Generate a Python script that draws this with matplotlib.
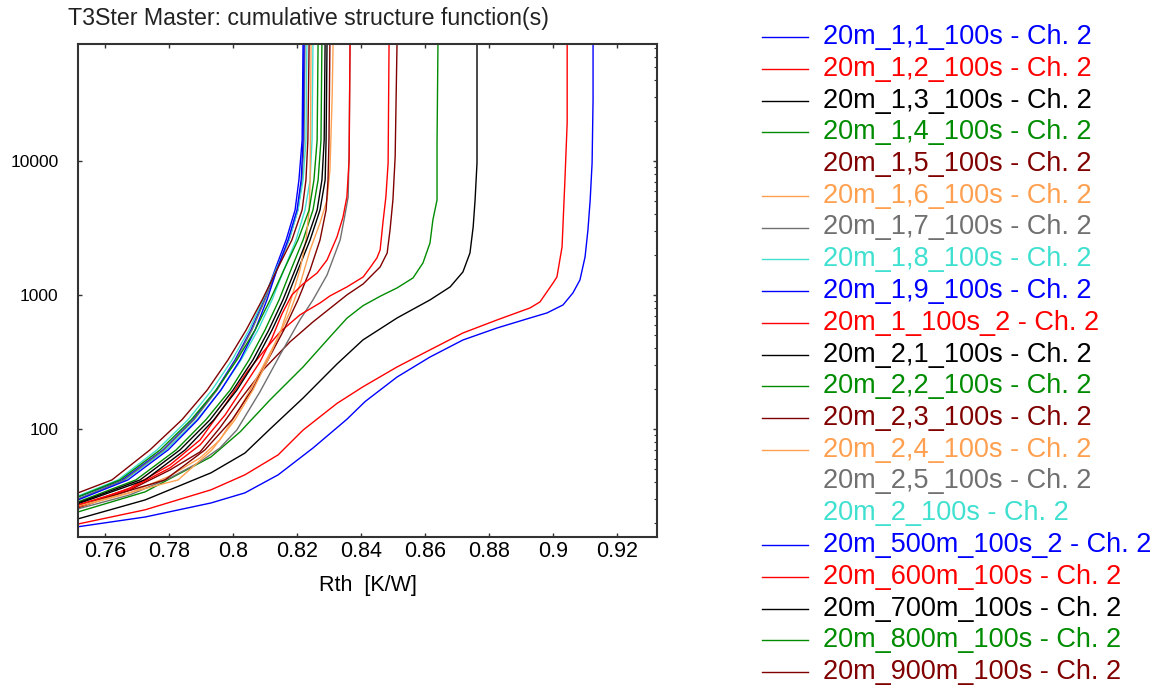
import numpy as np
import matplotlib
matplotlib.use("Agg")
import matplotlib.pyplot as plt
from matplotlib.lines import Line2D
from matplotlib.ticker import LogLocator, NullFormatter

plt.rcParams['font.family'] = ['Liberation Sans', 'DejaVu Sans']

# cumulative structure functions
# rth = thermal resistance [K/W], cth = cumulative capacitance
rth_1_1 = [0.7514, 0.7724, 0.7930, 0.8036, 0.8140, 0.8249, 0.8355, 0.8412, 0.8512, 0.8615, 0.8718, 0.8825,
           0.8928, 0.8981, 0.9031, 0.9062, 0.9084, 0.9100, 0.9109, 0.9116, 0.9122, 0.9125, 0.9125]
cth_1_1 = [18.6, 22.0, 28.0, 33.3, 45.4, 72.0, 118, 160, 244, 344, 461, 567,
           673, 734, 842, 1035, 1294, 1922, 3055, 5117, 9660, 28500, 80000]

rth_1_2 = [0.7514, 0.7724, 0.7930, 0.8036, 0.8140, 0.8218, 0.8324, 0.8405, 0.8512, 0.8615, 0.8718, 0.8825,
           0.8928, 0.8959, 0.9000, 0.9012, 0.9028, 0.9037, 0.9044, 0.9044]
cth_1_2 = [19.5, 24.9, 35.1, 45.4, 64.0, 98.0, 155, 206, 290, 389, 520, 651,
           800, 887, 1229, 1362, 2280, 7210, 19200, 80000]

rth_1_3 = [0.7514, 0.7724, 0.7930, 0.8036, 0.8115, 0.8218, 0.8324, 0.8405, 0.8512, 0.8615, 0.8678, 0.8718,
           0.8740, 0.8750, 0.8756, 0.8762, 0.8762]
cth_1_3 = [21.3, 29.5, 47.0, 66.0, 100, 170, 305, 461, 673, 918, 1148, 1485,
           2057, 3215, 5117, 9660, 80000]

rth_1_4 = [0.7514, 0.7724, 0.7930, 0.8021, 0.8115, 0.8218, 0.8302, 0.8355, 0.8405, 0.8460, 0.8512, 0.8562,
           0.8593, 0.8615, 0.8624, 0.8637, 0.8637, 0.8640]
cth_1_4 = [24.0, 33.9, 61.8, 95, 165, 290, 486, 670, 830, 980, 1128, 1340,
           1733, 2443, 3630, 5117, 13620, 80000]

rth_1_5 = [0.7514, 0.7677, 0.7802, 0.7896, 0.7958, 0.8021, 0.8093, 0.8177, 0.8249, 0.8355, 0.8406, 0.8459,
           0.8481, 0.8490, 0.8499, 0.8506, 0.8512]
cth_1_5 = [25.7, 35.1, 49.4, 67.4, 102, 165, 276, 446, 629, 1000, 1208, 1618,
           2057, 3056, 5117, 10710, 80000]

rth_1_6 = [0.7514, 0.7677, 0.7802, 0.7896, 0.7958, 0.8021, 0.8083, 0.8136, 0.8177, 0.8208, 0.8240, 0.8271,
           0.8293, 0.8302, 0.8309, 0.8312]
cth_1_6 = [26.2, 33.3, 44.6, 60.8, 82.8, 143, 266, 461, 747, 1188, 2167, 3446,
           5117, 8566, 30040, 80000]

rth_1_7 = [0.7514, 0.7677, 0.7802, 0.7896, 0.7958, 0.8011, 0.8083, 0.8146, 0.8208, 0.8249, 0.8293, 0.8334,
           0.8349, 0.8359, 0.8362, 0.8365]
cth_1_7 = [25.3, 32.2, 43.1, 56.7, 72.1, 98.3, 189, 357, 651, 918, 1410, 2573,
           3954, 5386, 12080, 80000]

rth_1_100s_2 = [0.7514, 0.7677, 0.7802, 0.7896, 0.7974, 0.8043, 0.8093, 0.8146, 0.8208, 0.8271, 0.8302, 0.8355,
                0.8406, 0.8427, 0.8449, 0.8459, 0.8468, 0.8477, 0.8484, 0.8487]
cth_1_100s_2 = [26.2, 36.3, 53.9, 82.8, 151, 266, 375, 529, 709, 871, 983, 1147,
                1362, 1591, 1889, 2167, 3505, 5386, 9663, 80000]

rth_600m = [0.7514, 0.7677, 0.7802, 0.7896, 0.7974, 0.8036, 0.8083, 0.8121, 0.8152, 0.8183, 0.8218, 0.8262,
            0.8293, 0.8324, 0.8343, 0.8355, 0.8362, 0.8365]
cth_600m = [27.1, 35.7, 51.2, 76.0, 127, 213, 316, 478, 722, 1000, 1208, 1459,
            1825, 2709, 3820, 5386, 10170, 80000]

# the tight bundle of curves shares these Cth levels (after its own start value)
cth_group = [41.6, 69.7, 117, 195, 327, 548, 918, 1537, 2573, 4309, 7214, 14340, 80000]

rth_1_8 = [0.7514, 0.7661, 0.7789, 0.7886, 0.7961, 0.8024, 0.8077, 0.8121, 0.8158, 0.8196, 0.8224, 0.8240, 0.8246, 0.8249]
cth_1_8 = [30.0] + cth_group
rth_1_9 = [0.7514, 0.7652, 0.7780, 0.7874, 0.7946, 0.8005, 0.8055, 0.8096, 0.8130, 0.8165, 0.8193, 0.8205, 0.8215, 0.8218]
cth_1_9 = [31.1] + cth_group
rth_2_1 = [0.7514, 0.7724, 0.7849, 0.7939, 0.8011, 0.8071, 0.8121, 0.8165, 0.8202, 0.8240, 0.8271, 0.8287, 0.8290, 0.8293]
cth_2_1 = [27.6] + cth_group
rth_2_2 = [0.7514, 0.7695, 0.7821, 0.7914, 0.7990, 0.8049, 0.8099, 0.8143, 0.8180, 0.8218, 0.8249, 0.8265, 0.8274, 0.8277]
cth_2_2 = [28.5] + cth_group
rth_2_3 = [0.7514, 0.7786, 0.7911, 0.7996, 0.8058, 0.8108, 0.8158, 0.8202, 0.8240, 0.8271, 0.8290, 0.8296, 0.8299, 0.8302]
cth_2_3 = [26.6] + cth_group
rth_2_4 = [0.7514, 0.7827, 0.7933, 0.8005, 0.8061, 0.8108, 0.8149, 0.8180, 0.8208, 0.8227, 0.8237, 0.8240, 0.8241, 0.8243]
cth_2_4 = [26.6] + cth_group
rth_2_5 = [0.7514, 0.7658, 0.7783, 0.7877, 0.7949, 0.8008, 0.8058, 0.8099, 0.8136, 0.8174, 0.8202, 0.8215, 0.8221, 0.8224]
cth_2_5 = [30.0] + cth_group
rth_2 = [0.7514, 0.7639, 0.7761, 0.7858, 0.7933, 0.7996, 0.8049, 0.8093, 0.8133, 0.8174, 0.8202, 0.8218, 0.8227, 0.8230]
cth_2 = [31.6] + cth_group
rth_500m = [0.7514, 0.7670, 0.7796, 0.7889, 0.7961, 0.8021, 0.8068, 0.8105, 0.8136, 0.8171, 0.8199, 0.8212, 0.8218, 0.8221]
cth_500m = [29.5] + cth_group
rth_700m = [0.7514, 0.7708, 0.7833, 0.7927, 0.7999, 0.8061, 0.8111, 0.8155, 0.8193, 0.8230, 0.8262, 0.8277, 0.8284, 0.8287]
cth_700m = [28.0] + cth_group
rth_800m = [0.7514, 0.7645, 0.7771, 0.7868, 0.7946, 0.8011, 0.8068, 0.8115, 0.8158, 0.8202, 0.8237, 0.8252, 0.8262, 0.8265]
cth_800m = [31.1] + cth_group
rth_900m = [0.7514, 0.7620, 0.7739, 0.7839, 0.7918, 0.7983, 0.8040, 0.8090, 0.8136, 0.8183, 0.8215, 0.8227, 0.8233, 0.8237]
cth_900m = [33.3] + cth_group

labels = ["20m_1,1_100s - Ch. 2", "20m_1,2_100s - Ch. 2", "20m_1,3_100s - Ch. 2", "20m_1,4_100s - Ch. 2",
          "20m_1,5_100s - Ch. 2", "20m_1,6_100s - Ch. 2", "20m_1,7_100s - Ch. 2", "20m_1,8_100s - Ch. 2",
          "20m_1,9_100s - Ch. 2", "20m_1_100s_2 - Ch. 2", "20m_2,1_100s - Ch. 2", "20m_2,2_100s - Ch. 2",
          "20m_2,3_100s - Ch. 2", "20m_2,4_100s - Ch. 2", "20m_2,5_100s - Ch. 2", "20m_2_100s - Ch. 2",
          "20m_500m_100s_2 - Ch. 2", "20m_600m_100s - Ch. 2", "20m_700m_100s - Ch. 2", "20m_800m_100s - Ch. 2",
          "20m_900m_100s - Ch. 2"]
curves = [(rth_1_1, cth_1_1), (rth_1_2, cth_1_2), (rth_1_3, cth_1_3), (rth_1_4, cth_1_4),
          (rth_1_5, cth_1_5), (rth_1_6, cth_1_6), (rth_1_7, cth_1_7), (rth_1_8, cth_1_8),
          (rth_1_9, cth_1_9), (rth_1_100s_2, cth_1_100s_2), (rth_2_1, cth_2_1), (rth_2_2, cth_2_2),
          (rth_2_3, cth_2_3), (rth_2_4, cth_2_4), (rth_2_5, cth_2_5), (rth_2, cth_2),
          (rth_500m, cth_500m), (rth_600m, cth_600m), (rth_700m, cth_700m), (rth_800m, cth_800m),
          (rth_900m, cth_900m)]

x_ticks = [0.76, 0.78, 0.80, 0.82, 0.84, 0.86, 0.88, 0.90, 0.92]
x_tick_labels = ["0.76", "0.78", "0.8", "0.82", "0.84", "0.86", "0.88", "0.9", "0.92"]
y_ticks = [100, 1000, 10000]
y_tick_labels = ["100", "1000", "10000"]

# T3Ster colour cycle
palette = ['#0000ff', '#ff0000', '#000000', '#008c00', '#800000', '#ffa050', '#707070', '#40e0d0']
colors = [palette[i % len(palette)] for i in range(len(labels))]
no_sample = {"20m_1,5_100s - Ch. 2", "20m_2,5_100s - Ch. 2", "20m_2_100s - Ch. 2"}

fig = plt.figure(figsize=(11.56, 6.9), dpi=100)
ax = fig.add_axes([78 / 1156, 1 - 537 / 690, 579 / 1156, 493 / 690])

for (rth, cth), col in zip(curves, colors):
    ax.plot(rth, cth, color=col, lw=1.0)

ax.set_yscale('log')
ax.set_xlim(0.7514, 0.9325)
ax.set_ylim(15.6, 74650)

ax.set_xticks(x_ticks)
ax.set_xticklabels(x_tick_labels, fontsize=15.5)
ax.set_yticks(y_ticks)
ax.set_yticklabels(y_tick_labels, fontsize=12.5)
ax.yaxis.set_minor_locator(LogLocator(base=10, subs=np.arange(2, 10)))
ax.yaxis.set_minor_formatter(NullFormatter())
ax.tick_params(which='major', direction='in', length=3, width=1, top=True, right=True, color='#333333')
ax.tick_params(axis='x', pad=3)
ax.tick_params(axis='y', pad=14)
ax.tick_params(which='minor', direction='in', length=2.5, width=0.8, left=False, right=True, color='#333333')
for sp in ax.spines.values():
    sp.set_linewidth(1.5)
    sp.set_color('#333333')

ax.set_xlabel("Rth  [K/W]", fontsize=15.5, labelpad=9)
fig.text(68 / 1156, 1 - 18 / 690, "T3Ster Master: cumulative structure function(s)",
         fontsize=16.7, ha='left', va='center', color='#222222')

# legend drawn on the right, one row per series
for i, (lab, col) in enumerate(zip(labels, colors)):
    y = 1 - (37 + 31.75 * i) / 690
    if lab not in no_sample:
        fig.add_artist(Line2D([762 / 1156, 808 / 1156], [y, y], color=col, lw=1.0,
                              transform=fig.transFigure))
    fig.text(823 / 1156, y, lab, color=col, fontsize=19.5, ha='left', va='center')

fig.savefig("out.png", dpi=100)
